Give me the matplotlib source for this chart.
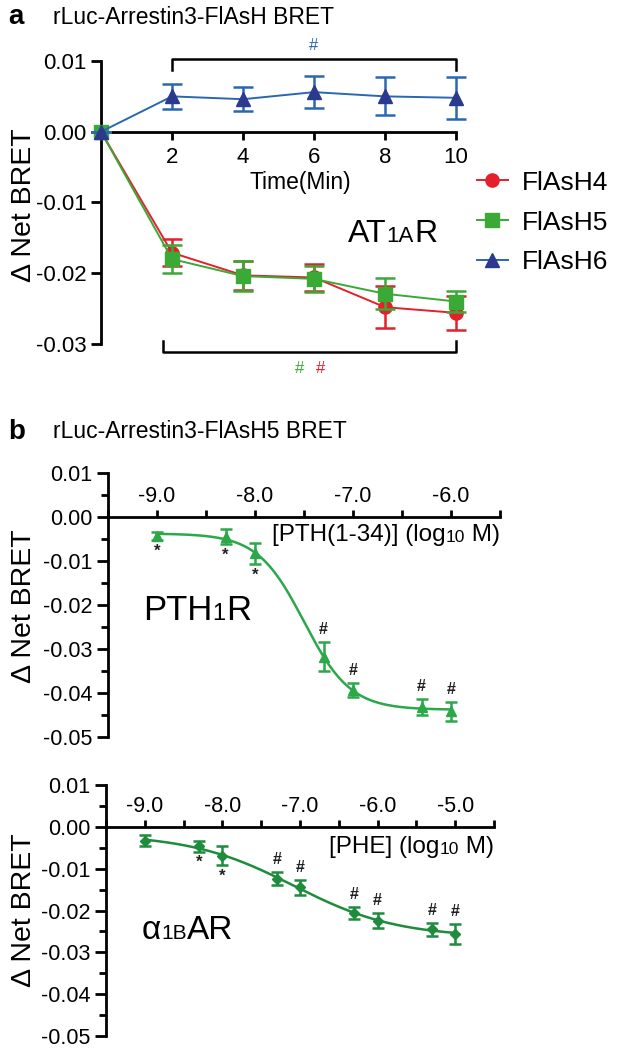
import numpy as np
import matplotlib
matplotlib.use("Agg")
import matplotlib.pyplot as plt
from matplotlib.ticker import FormatStrFormatter, MultipleLocator

plt.rcParams['font.family'] = ['Liberation Sans', 'DejaVu Sans']
plt.rcParams['axes.unicode_minus'] = False

# panel a: time course (min) of delta net BRET, AT1AR
time_min = [0, 2, 4, 6, 8, 10]
flash4 = [0, -0.0171, -0.0203, -0.0206, -0.0248, -0.0256]
flash4_err = [0, 0.0019, 0.0020, 0.0019, 0.0030, 0.0024]
flash5 = [0, -0.0180, -0.0204, -0.0208, -0.0229, -0.0240]
flash5_err = [0, 0.0020, 0.0021, 0.0018, 0.0022, 0.0015]
flash6 = [0, 0.0050, 0.0046, 0.0056, 0.0050, 0.0048]
flash6_err = [0, 0.0018, 0.0017, 0.0023, 0.0027, 0.0030]
series_names = ['FlAsH4', 'FlAsH5', 'FlAsH6']

# panel b: dose response, log10 M
pth_logc = [-9.0, -8.3, -8.0, -7.3, -7.0, -6.3, -6.0]
pth_resp = [-0.0043, -0.0045, -0.0082, -0.0318, -0.0393, -0.0432, -0.0442]
pth_err = [0.0010, 0.0017, 0.0024, 0.0033, 0.0016, 0.0019, 0.0022]
pth_marks = ['*', '*', '*', '#', '#', '#', '#']

phe_logc = [-9.0, -8.3, -8.0, -7.3, -7.0, -6.3, -6.0, -5.3, -5.0]
phe_resp = [-0.0033, -0.0047, -0.0069, -0.0124, -0.0145, -0.0206, -0.0224, -0.0245, -0.0256]
phe_err = [0.0014, 0.0012, 0.0023, 0.0016, 0.0019, 0.0015, 0.0019, 0.0016, 0.0023]
phe_marks = ['', '*', '*', '#', '#', '#', '#', '#', '#']

red = '#e3202b'
green = '#3aa935'
blue = '#2a67b1'
navy = '#2b3a8f'
green_pth = '#2aa84a'
green_phe = '#1d8c3c'


def fit_4pl(x, y):
    # brute force 4-parameter logistic fit (least squares)
    x = np.asarray(x)
    y = np.asarray(y)
    ec = np.arange(-9.5, -5.0, 0.01)[:, None, None]
    h = np.arange(0.3, 3.0, 0.01)[None, :, None]
    s = 1.0 / (1.0 + 10.0 ** ((x[None, None, :] - ec) * h))
    a = 1 - s
    saa = (a * a).sum(-1); sbb = (s * s).sum(-1); sab = (a * s).sum(-1)
    say = (a * y).sum(-1); sby = (s * y).sum(-1)
    det = saa * sbb - sab ** 2
    bot = (sbb * say - sab * sby) / det
    top = (saa * sby - sab * say) / det
    sse = ((bot[..., None] * a + top[..., None] * s - y) ** 2).sum(-1)
    i, j = np.unravel_index(np.argmin(sse), sse.shape)
    return ec[i, 0, 0], h[0, j, 0], bot[i, j], top[i, j]


def logistic(xx, p):
    ec, h, bot, top = p
    s = 1.0 / (1.0 + 10.0 ** ((xx - ec) * h))
    return bot + (top - bot) * s


def chain_text(ax, x, y, parts, color='black', align='left'):
    # pieces of text of different sizes sharing one baseline
    if align == 'right':
        parts = parts[::-1]
    txt, fs = parts[0]
    t = ax.text(x, y, txt, fontsize=fs, ha=align, va='baseline', color=color)
    prev = fs
    for txt, fs in parts[1:]:
        t = ax.annotate(txt, xy=(1 if align == 'left' else 0, 0), xycoords=t,
                        xytext=(0, 0.21 * (prev - fs)), textcoords='offset points',
                        fontsize=fs, ha=align, va='bottom', color=color)
        prev = fs
    return t


fig = plt.figure(figsize=(6.24, 10.5), dpi=100)

# ---------------- panel a ----------------
ax = fig.add_axes([0.1619, 0.6724, 0.5689, 0.2695])
series = [(flash4, flash4_err, red, red, 'o'),
          (flash5, flash5_err, green, green, 's'),
          (flash6, flash6_err, blue, navy, '^')]
handles = []
for k, (vals, err, lc, mc, mk) in enumerate(series):
    eb = ax.errorbar(time_min, vals, yerr=err, color=lc, ecolor=lc, marker=mk, ms=9.5,
                     mfc=mc, mec=mc, lw=1.4, elinewidth=1.8, capsize=7, capthick=1.8,
                     zorder=3 + k)
    for art in eb.get_children():
        art.set_clip_on(False)
    handles.append(eb[0])

ax.set_xlim(0, 10)
ax.set_ylim(-0.03, 0.01)
for side in ['top', 'right']:
    ax.spines[side].set_visible(False)
for side in ['left', 'bottom']:
    ax.spines[side].set_linewidth(2)
ax.spines['bottom'].set_position(('data', 0))
ax.set_xticks(time_min[1:])
ax.set_yticks([-0.03, -0.02, -0.01, 0.0, 0.01])
ax.yaxis.set_major_formatter(FormatStrFormatter('%.2f'))
ax.tick_params(axis='both', width=2, length=7, labelsize=16)
ax.tick_params(axis='x', length=6, pad=5)
ax.text(5.6, -0.0072, 'Time(Min)', fontsize=16.5, ha='center', va='center')

# significance brackets
ax.plot([time_min[1], time_min[1], time_min[-1], time_min[-1]],
        [0.0087, 0.0103, 0.0103, 0.0087], color='black', lw=1.8, clip_on=False)
ax.text(6, 0.0122, '#', color=blue, fontsize=12, ha='center', va='center')
ax.plot([1.75, 1.75, time_min[-1], time_min[-1]],
        [-0.0296, -0.0311, -0.0311, -0.0296], color='black', lw=1.8, clip_on=False)
ax.text(5.6, -0.0334, '#', color=green, fontsize=12, ha='center', va='center', clip_on=False)
ax.text(6.17, -0.0334, '#', color=red, fontsize=12, ha='center', va='center', clip_on=False)

chain_text(ax, 6.96, -0.0156, [('AT', 23), ('1A', 16), ('R', 23)])

ax.legend(handles, series_names, loc='upper left', bbox_to_anchor=(0.764, 0.8374),
          bbox_transform=fig.transFigure, frameon=False, fontsize=19,
          handlelength=1.17, handletextpad=0.53, labelspacing=0.6,
          borderpad=0, borderaxespad=0, numpoints=1)

fig.text(0.013, 1 - 17 / 1050, 'a', fontsize=20, fontweight='bold', va='center')
fig.text(0.085, 1 - 17 / 1050, 'rLuc-Arrestin3-FlAsH BRET', fontsize=16.5, va='center')
fig.text(0.038, 1 - 205 / 1050, '\u0394 Net BRET', fontsize=20.5, rotation=90,
         ha='center', va='center')


# ---------------- panel b ----------------
def dose_axes(rect, xlim, major, xlabel_parts, color, mk, ms, logc, resp, err, marks):
    bx = fig.add_axes(rect)
    bx.set_xlim(*xlim)
    bx.set_ylim(-0.05, 0.01)
    bx.spines['bottom'].set_visible(False)
    bx.spines['right'].set_visible(False)
    bx.spines['top'].set_position(('data', 0))
    for side in ['left', 'top']:
        bx.spines[side].set_linewidth(2)
    bx.xaxis.set_ticks_position('top')
    bx.set_xticks(major)
    bx.xaxis.set_minor_locator(MultipleLocator(0.5))
    bx.xaxis.set_major_formatter(FormatStrFormatter('%.1f'))
    bx.set_yticks([-0.05, -0.04, -0.03, -0.02, -0.01, 0.0, 0.01])
    bx.yaxis.set_minor_locator(MultipleLocator(0.005))
    bx.yaxis.set_major_formatter(FormatStrFormatter('%.2f'))
    bx.tick_params(axis='both', which='both', width=2, labelsize=15.5)
    bx.tick_params(axis='y', which='major', length=8)
    bx.tick_params(axis='y', which='minor', length=5)
    bx.tick_params(axis='x', which='both', length=5, pad=2)

    p = fit_4pl(logc, resp)
    xx = np.linspace(logc[0], logc[-1], 300)
    bx.plot(xx, logistic(xx, p), color=color, lw=1.8, zorder=2)
    bx.errorbar(logc, resp, yerr=err, fmt=mk, color=color, ms=ms, elinewidth=1.8,
                capsize=4, capthick=1.8, zorder=3)
    for x, y, e, m in zip(logc, resp, err, marks):
        if m == '*':
            bx.annotate(m, xy=(x, y - e), xytext=(0, -8), textcoords='offset points',
                        ha='center', va='center', fontsize=12, fontweight='bold',
                        color='#222222')
        elif m == '#':
            bx.annotate(m, xy=(x, y + e), xytext=(0, 9), textcoords='offset points',
                        ha='center', va='center', fontsize=11.5, fontweight='bold',
                        color='#222222')
    chain_text(bx, xlim[1], xlabel_parts[0], xlabel_parts[1], align='right')
    return bx


bx1 = dose_axes([0.1731, 0.2981, 0.6282, 0.2514], (-9.5, -5.5), [-9, -8, -7, -6],
                (-0.0055, [('[PTH(1-34)] (log', 17.5), ('10', 12.5), (' M)', 17.5)]),
                green_pth, '^', 6.5, pth_logc, pth_resp, pth_err, pth_marks)
chain_text(bx1, -9.14, -0.0234, [('PTH', 25), ('1', 17), ('R', 25)])

bx2 = dose_axes([0.1699, 0.0133, 0.6218, 0.2391], (-9.5, -4.5), [-9, -8, -7, -6, -5],
                (-0.0063, [('[PHE] (log', 17.5), ('10', 12.5), (' M)', 17.5)]),
                green_phe, 'D', 5.5, phe_logc, phe_resp, phe_err, phe_marks)
chain_text(bx2, -9.04, -0.0267, [('\u03b1', 24), ('1B', 15), ('AR', 24)])

fig.text(0.013, 1 - 432 / 1050, 'b', fontsize=20, fontweight='bold', va='center')
fig.text(0.085, 1 - 432 / 1050, 'rLuc-Arrestin3-FlAsH5 BRET', fontsize=16.5, va='center')
fig.text(0.038, 1 - 606 / 1050, '\u0394 Net BRET', fontsize=20.5, rotation=90,
         ha='center', va='center')
fig.text(0.038, 1 - 910 / 1050, '\u0394 Net BRET', fontsize=20.5, rotation=90,
         ha='center', va='center')

fig.savefig('out.png', dpi=100)
